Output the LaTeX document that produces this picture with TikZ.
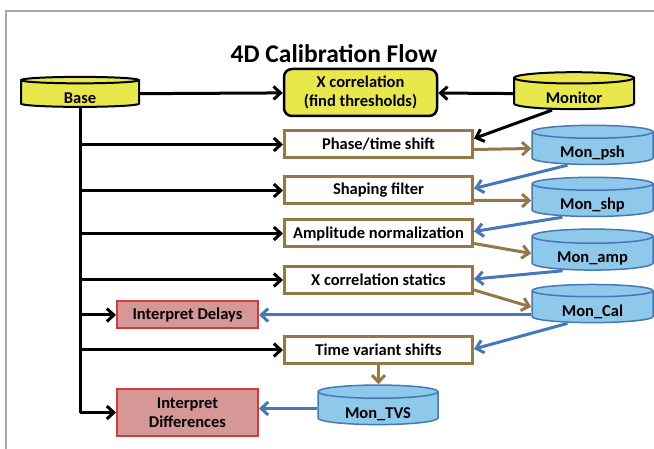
\documentclass[tikz,border=0pt]{standalone}
\usepackage{fontspec}
\setmainfont{Carlito}
\usetikzlibrary{shapes.geometric,arrows.meta}

\definecolor{dbyellow}{RGB}{232,232,76}
\definecolor{dbblue}{RGB}{142,200,234}
\definecolor{dbline}{RGB}{70,120,185}
\definecolor{stepbrown}{RGB}{150,120,72}
\definecolor{interpfill}{RGB}{214,152,150}
\definecolor{interpline}{RGB}{212,58,58}

\begin{document}
\begin{tikzpicture}[x=1pt, y=-1pt,
    every node/.style={font=\fontsize{16.5}{19}\selectfont\bfseries, align=center, inner sep=0pt},
    database/.style={cylinder, shape border rotate=90, shape aspect=0.2, draw, line width=1.5pt, minimum width=118pt, minimum height=30pt, text height=19pt, text depth=-4.5pt},
    yellowdb/.style={database, fill=dbyellow, draw=black, line width=2pt},
    bluedb/.style={database, fill=dbblue, draw=dbline, minimum width=121pt, minimum height=31pt},
    stepbox/.style={draw=stepbrown, line width=3pt, fill=white, minimum width=188pt, minimum height=27pt},
    interp/.style={draw=interpline, line width=2pt, fill=interpfill, minimum width=141pt, minimum height=27pt},
    link/.style={line width=3pt, -{Straight Barb[length=7pt,width=13pt]}},
]
    \useasboundingbox (0,0) rectangle (654,449);
    % Frame
    \draw[gray!70, line width=1.5pt] (6,449) -- (6,11) -- (654,11);

    % Title
    \node[font=\fontsize{25.5}{30}\selectfont\bfseries] (title) at (334,54) {4D Calibration Flow};

    % Inputs and first correlation
    \node[yellowdb] (base) at (80,94) {Base};
    \node[yellowdb, minimum width=120pt] (monitor) at (574,94) {Monitor};
    \node[draw, line width=2.5pt, fill=dbyellow, rounded corners=8pt, minimum width=153pt, minimum height=47pt] (xcorr) at (360.5,92.5) {X correlation\\(find thresholds)};

    % Calibration steps
    \node[stepbox] (phase) at (378.5,144.5) {Phase/time shift};
    \node[stepbox] (shaping) at (378.5,190.5) {Shaping filter};
    \node[stepbox] (amp) at (378.5,233.5) {Amplitude normalization};
    \node[stepbox] (xstat) at (378.5,280) {X correlation statics};
    \node[stepbox] (tvshift) at (378.5,350) {Time variant shifts};

    % Monitor versions
    \node[bluedb] (monpsh) at (592.5,148.5) {Mon\_psh};
    \node[bluedb] (monshp) at (592.5,200.5) {Mon\_shp};
    \node[bluedb] (monamp) at (592.5,253.5) {Mon\_amp};
    \node[bluedb] (moncal) at (592.5,307) {Mon\_Cal};
    \node[bluedb, minimum width=120pt] (montvs) at (378,408.5) {Mon\_TVS};

    % Interpretation
    \node[interp] (delays) at (187.5,315) {Interpret Delays};
    \node[interp, minimum height=47pt] (diffs) at (187.5,412.5) {Interpret\\Differences};

    % Base to everything
    \draw[link] (base) -- (xcorr);
    \draw[line width=3pt] (base.south) -- (base.south |- diffs.west);
    \draw[link] (base.south |- phase.west) -- (phase.west);
    \draw[link] (base.south |- shaping.west) -- (shaping.west);
    \draw[link] (base.south |- amp.west) -- (amp.west);
    \draw[link] (base.south |- xstat.west) -- (xstat.west);
    \draw[link] (base.south |- delays.west) -- (delays.west);
    \draw[link] (base.south |- tvshift.west) -- (tvshift.west);
    \draw[link] (base.south |- diffs.west) -- (diffs.west);

    % Monitor chain
    \draw[link] (monitor) -- (xcorr);
    \draw[link] ([xshift=-22pt]monitor.south) -- ([yshift=6pt]phase.east);
    \draw[link, stepbrown] ([yshift=-5pt]phase.east) -- (monpsh.west);
    \draw[link, dbline] ([xshift=-25pt]monpsh.south) -- ([yshift=2pt]shaping.east);
    \draw[link, stepbrown] ([yshift=-10pt]shaping.east) -- (monshp.west);
    \draw[link, dbline] ([xshift=-30pt]monshp.south) -- ([yshift=2pt]amp.east);
    \draw[link, stepbrown] ([yshift=-10pt]amp.east) -- (monamp.west);
    \draw[link, dbline] ([xshift=-30pt]monamp.south) -- ([yshift=1pt]xstat.east);
    \draw[link, stepbrown] ([yshift=-10pt]xstat.east) -- (moncal.west);
    \draw[link, dbline] (moncal.west |- delays.east) -- (delays.east);
    \draw[link, dbline] ([xshift=-25pt]moncal.south) -- ([yshift=1pt]tvshift.east);
    \draw[link, stepbrown] (tvshift.south) -- (tvshift.south |- montvs.north);
    \draw[link, dbline] (montvs.west) -- (montvs.west -| diffs.east);
\end{tikzpicture}
\end{document}
